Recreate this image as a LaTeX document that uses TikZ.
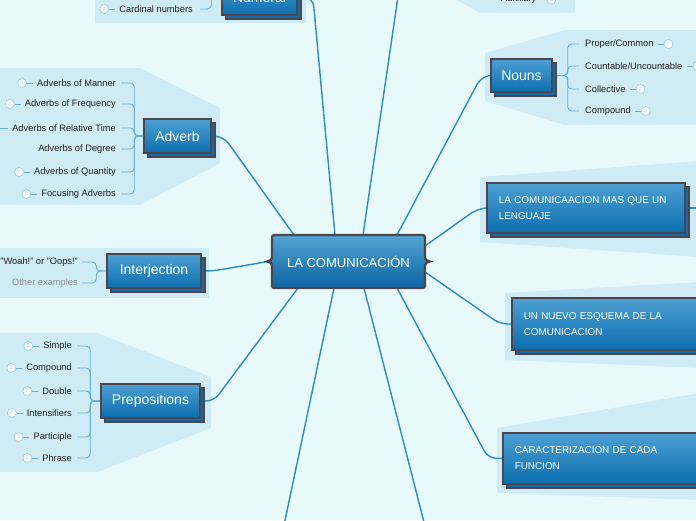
\documentclass[tikz,border=0pt]{standalone}
\usepackage{fontspec}
\setmainfont{Liberation Sans}
\usetikzlibrary{shadows,calc,positioning}
\definecolor{bgc}{HTML}{E8F9FB}
\definecolor{panelc}{HTML}{CFEBF5}
\definecolor{boxtop}{HTML}{4DA0D3}
\definecolor{boxbot}{HTML}{0C6EAF}
\definecolor{ctop}{HTML}{52A4D3}
\definecolor{cbot}{HTML}{0B64A3}
\definecolor{bordc}{HTML}{4E4449}
\definecolor{connc}{HTML}{2B8BC9}
\definecolor{subc}{HTML}{62AEDB}
\definecolor{badgec}{HTML}{9CCFEB}
\definecolor{graytext}{HTML}{8A8F92}
\pgfdeclarelayer{panels}
\pgfdeclarelayer{lines}
\pgfsetlayers{panels,lines,main}
\begin{document}
\begin{tikzpicture}[x=1pt,y=-1pt,
  topic/.style={draw=bordc, line width=1.5pt, top color=boxtop, bottom color=boxbot,
    text=white, inner sep=0pt, font=\fontsize{14}{16}\selectfont,
    general shadow={shadow xshift=4pt, shadow yshift=-4pt, fill=boxbot, draw=bordc, line width=1.5pt}},
  rbox/.style={align=left, inner xsep=12pt, font=\fontsize{9.9}{16}\selectfont},
  leaf/.style={inner sep=1pt, font=\fontsize{9.3}{11}\selectfont, text=black!88},
  badge/.style={circle, draw=badgec, fill=white, line width=0.7pt, minimum size=9pt,
    inner sep=0pt, text=badgec, font=\fontsize{5}{5}\selectfont},
  conn/.style={draw=connc, line width=1.4pt, rounded corners=8pt},
  sub/.style={draw=subc, line width=0.9pt, rounded corners=4pt},
  dashl/.style={draw=subc, line width=0.8pt, shorten >=3pt}
]
\useasboundingbox (0,0) rectangle (696,520);
\begin{pgfonlayer}{panels}
\fill[bgc] (0,0) rectangle (696,520);
% panels
\fill[panelc] (95,-2) rectangle (306,23);
\fill[panelc] (453,-2) -- (480,13) -- (575,13) -- (575,-2) -- cycle;
\fill[panelc] (485,53) -- (565,30) -- (700,30) -- (700,125) -- (565,125) -- (485,101) -- cycle;
\fill[panelc] (-2,68) -- (140,68) -- (220,108) -- (220,163) -- (140,205) -- (-2,205) -- cycle;
\fill[panelc] (-2,248) rectangle (209,298);
\fill[panelc] (-2,333) -- (97,333) -- (211,377) -- (211,428) -- (97,472) -- (-2,472) -- cycle;
\fill[panelc] (480,177) -- (700,161) -- (700,257) -- (480,242) -- cycle;
\fill[panelc] (505,293) -- (700,282) -- (700,368) -- (505,360) -- cycle;
\fill[panelc] (497,428) -- (700,393) -- (700,500) -- (497,493) -- cycle;
\end{pgfonlayer}

% central topic
\path[draw=bordc, line width=2.2pt, top color=ctop, bottom color=cbot]
  (277,235) -- (420,235) .. controls (425,235) .. (425,240) -- (425,256)
  .. controls (425,260) and (427,261.5) .. (430,261.5)
  .. controls (427,261.5) and (425,263) .. (425,267) -- (425,283)
  .. controls (425,288) .. (420,288) -- (277,288) .. controls (272,288) .. (272,283)
  -- (272,267) .. controls (272,263) and (270,261.5) .. (267,261.5)
  .. controls (270,261.5) and (272,260) .. (272,256) -- (272,240)
  .. controls (272,235) .. (277,235) -- cycle;
\node[text=white, font=\fontsize{13}{15}\selectfont, minimum width=153pt, minimum height=53pt, inner sep=0pt] (center) at (348.5,261.5) {LA COMUNICACIÓN};

% attachment points on the central topic
\coordinate (cNum) at (335,235);
\coordinate (cVerb) at (363,235);
\coordinate (cNoun) at (397,235);
\coordinate (cAdv) at (294,235);
\coordinate (cInt) at (268,261.5);
\coordinate (cBox1) at (425,246);
\coordinate (cBox2) at (425,272);
\coordinate (cBox3) at (397,288);
\coordinate (cPrep) at (298,288);
\coordinate (cBot1) at (334,288);
\coordinate (cBot2) at (364,288);
\coordinate (bot1) at (283,530);
\coordinate (bot2) at (426,530);
\coordinate (verbsend) at (399,-10);
\coordinate (verbsbr) at (484,-0.5);
\coordinate (box1out) at (702,208);

% main topics
\node[topic, minimum width=75pt, minimum height=36pt] (numeral) at (259.5,-3) {Numeral};
\node[topic, minimum width=61pt, minimum height=33pt] (nouns) at (521.5,75.5) {Nouns};
\node[topic, minimum width=67pt, minimum height=34pt] (adverb) at (177.5,136) {Adverb};
\node[topic, minimum width=94pt, minimum height=34pt] (interj) at (154,271) {Interjection};
\node[topic, minimum width=99pt, minimum height=34pt] (prep) at (150.5,401) {Prepositions};
\node[topic, rbox, text width=174pt, minimum height=50pt, anchor=west] (box1) at (486,208) {LA COMUNICAACION MAS QUE UN\\LENGUAJE};
\node[topic, rbox, text width=200pt, minimum height=52pt, anchor=west] (box2) at (511,324) {UN NUEVO ESQUEMA DE LA\\COMUNICACION};
\node[topic, rbox, text width=200pt, minimum height=51pt, anchor=west] (box3) at (502,458.5) {CARACTERIZACION DE CADA\\FUNCION};

% Numeral child
\node[leaf, anchor=east] (nm1) at (194,9) {Cardinal numbers};
\node[badge, left=9pt of nm1] (nm1b) {2};
% Verbs child
\node[leaf, anchor=west] (aux) at (500,-0.5) {Auxiliary};
\node[badge, right=9pt of aux] (auxb) {2};
% Nouns children
\node[leaf, anchor=west] (n1) at (584,44) {Proper/Common};
\node[leaf, anchor=west] (n2) at (584,66) {Countable/Uncountable};
\node[leaf, anchor=west] (n3) at (584,89) {Collective};
\node[leaf, anchor=west] (n4) at (584,111) {Compound};
\node[badge, right=9pt of n1] (n1b) {2};
\node[badge, right=9pt of n2] (n2b) {2};
\node[badge, right=9pt of n3] (n3b) {2};
\node[badge, right=9pt of n4] (n4b) {2};
% Adverb children
\node[leaf, anchor=east] (av1) at (117,83) {Adverbs of Manner};
\node[leaf, anchor=east] (av2) at (117,104) {Adverbs of Frequency};
\node[leaf, anchor=east] (av3) at (117,128) {Adverbs of Relative Time};
\node[leaf, anchor=east] (av4) at (117,149) {Adverbs of Degree};
\node[leaf, anchor=east] (av5) at (117,172) {Adverbs of Quantity};
\node[leaf, anchor=east] (av6) at (117,194) {Focusing Adverbs};
\node[badge, left=9pt of av1] (av1b) {2};
\node[badge, left=9pt of av2] (av2b) {2};
\node[badge, left=11pt of av3] (av3b) {2};
\node[badge, left=9pt of av5] (av5b) {2};
\node[badge, left=9pt of av6] (av6b) {2};
% Interjection children
\node[leaf, anchor=east] (ij1) at (79,262) {"Woah!" or "Oops!"};
\node[leaf, anchor=east, text=graytext] (ij2) at (79,283) {Other examples};
% Prepositions children
\node[leaf, anchor=east] (p1) at (73,346) {Simple};
\node[leaf, anchor=east] (p2) at (73,368) {Compound};
\node[leaf, anchor=east] (p3) at (73,391) {Double};
\node[leaf, anchor=east] (p4) at (73,413) {Intensifiers};
\node[leaf, anchor=east] (p5) at (73,437) {Participle};
\node[leaf, anchor=east] (p6) at (73,458) {Phrase};
\node[badge, left=9pt of p1] (p1b) {2};
\node[badge, left=9pt of p2] (p2b) {2};
\node[badge, left=9pt of p3] (p3b) {2};
\node[badge, left=9pt of p4] (p4b) {2};
\node[badge, left=9pt of p5] (p5b) {2};
\node[badge, left=9pt of p6] (p6b) {2};

\begin{pgfonlayer}{lines}
% connectors from the central topic
\draw[conn] (cNum) -- (313,-2) -- (numeral.east);
\draw[conn] (cVerb) -- (verbsend);
\draw[conn] (cNoun) -- (481,77) -- (nouns.west);
\draw[conn] (cAdv) -- (224,137) -- (adverb.east);
\draw[conn] (cInt) -- (213,271) -- (interj.east);
\draw[conn] (cPrep) -- (214,401) -- (prep.east);
\draw[conn] (cBot1) -- (bot1);
\draw[conn] (cBot2) -- (bot2);
\draw[conn] (cBox1) -- (477,209) -- (box1.west);
\draw[conn] (cBox2) -- (500,324) -- (box2.west);
\draw[conn] (cBox3) -- (488,458) -- (box3.west);
\draw[conn] (box1.east) -- (box1out);
% brackets to children
\draw[sub, shorten >=6pt] (numeral.west) -- ++(-10,0) |- (nm1.east);
\draw[sub, shorten >=3pt] (verbsbr) -- (aux.west);
\foreach \c in {n1,n2,n3,n4}{\draw[sub, shorten >=5pt] (nouns.east) -- ++(15,0) |- (\c.west);}
\foreach \c in {av1,av2,av3,av4,av5,av6}{\draw[sub, shorten >=4pt] (adverb.west) -- ++(-9,0) |- (\c.east);}
\foreach \c in {ij1,ij2}{\draw[sub, shorten >=3pt] (interj.west) -- ++(-10,0) |- (\c.east);}
\foreach \c in {p1,p2,p3,p4,p5,p6}{\draw[sub, shorten >=4pt] (prep.west) -- ++(-10,0) |- (\c.east);}
% badge dashes
\foreach \c in {nm1,av1,av2,av3,av5,av6,p1,p2,p3,p4,p5,p6}{\draw[dashl] (\c b) -- (\c);}
\foreach \c in {aux,n1,n2,n3,n4}{\draw[dashl] (\c b) -- (\c);}
\end{pgfonlayer}
\end{tikzpicture}
\end{document}
